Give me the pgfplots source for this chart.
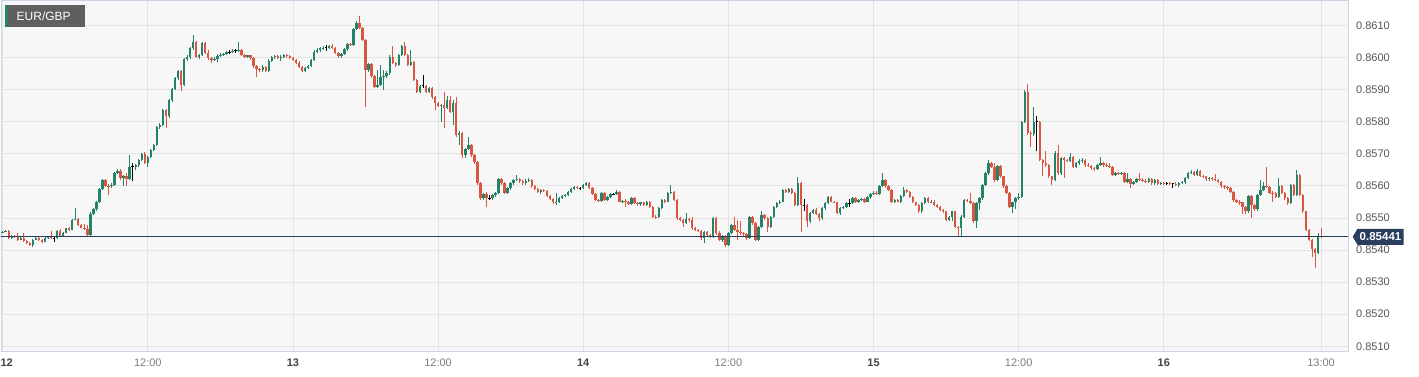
\documentclass[border=0pt]{standalone}
\usepackage{pgfplots}
\pgfplotsset{compat=1.18}
\usepackage{pgfplotstable}
\usepackage{fontspec}
\setmainfont{Liberation Sans}
\definecolor{cgreen}{RGB}{36,130,104}
\definecolor{cred}{RGB}{217,87,64}
\definecolor{bgplot}{RGB}{247,247,247}
\definecolor{gridc}{RGB}{228,228,228}
\definecolor{framec}{RGB}{204,211,228}
\definecolor{navy}{RGB}{41,61,94}
\definecolor{boxgray}{RGB}{95,95,95}
\definecolor{lblgray}{RGB}{85,85,85}
\definecolor{timegray}{RGB}{125,125,125}
\definecolor{daygray}{RGB}{68,68,68}

\pgfplotstableread{
i o h l c
0 0.85454 0.85459 0.85452 0.85457
1 0.85457 0.85461 0.85455 0.85459
2 0.85459 0.85461 0.85435 0.85437
3 0.85437 0.85447 0.85434 0.85444
4 0.85444 0.85446 0.85438 0.85441
5 0.85441 0.85452 0.85429 0.85432
6 0.85432 0.85440 0.85430 0.85437
7 0.85437 0.85452 0.85425 0.85428
8 0.85428 0.85432 0.85418 0.85421
9 0.85421 0.85425 0.85412 0.85416
10 0.85416 0.85435 0.85409 0.85432
11 0.85432 0.85440 0.85430 0.85437
12 0.85437 0.85444 0.85428 0.85430
13 0.85430 0.85434 0.85423 0.85426
14 0.85426 0.85440 0.85424 0.85437
15 0.85437 0.85443 0.85433 0.85440
16 0.85440 0.85460 0.85433 0.85436
17 0.85436 0.85441 0.85426 0.85436
18 0.85436 0.85463 0.85433 0.85460
19 0.85460 0.85465 0.85440 0.85444
20 0.85444 0.85456 0.85441 0.85454
21 0.85454 0.85470 0.85452 0.85468
22 0.85468 0.85472 0.85460 0.85463
23 0.85463 0.85497 0.85461 0.85494
24 0.85494 0.85530 0.85492 0.85497
25 0.85497 0.85500 0.85475 0.85478
26 0.85478 0.85482 0.85467 0.85470
27 0.85470 0.85480 0.85462 0.85466
28 0.85466 0.85478 0.85441 0.85447
29 0.85447 0.85518 0.85444 0.85512
30 0.85512 0.85530 0.85508 0.85527
31 0.85527 0.85552 0.85522 0.85548
32 0.85548 0.85593 0.85545 0.85589
33 0.85589 0.85621 0.85586 0.85618
34 0.85618 0.85622 0.85596 0.85600
35 0.85600 0.85605 0.85572 0.85598
36 0.85598 0.85608 0.85594 0.85604
37 0.85604 0.85644 0.85600 0.85641
38 0.85641 0.85651 0.85637 0.85647
39 0.85647 0.85652 0.85618 0.85624
40 0.85624 0.85634 0.85600 0.85629
41 0.85629 0.85640 0.85598 0.85622
42 0.85622 0.85696 0.85618 0.85660
43 0.85660 0.85670 0.85616 0.85660
44 0.85660 0.85669 0.85650 0.85665
45 0.85665 0.85684 0.85660 0.85681
46 0.85681 0.85703 0.85678 0.85699
47 0.85699 0.85705 0.85668 0.85672
48 0.85672 0.85694 0.85660 0.85691
49 0.85691 0.85716 0.85688 0.85712
50 0.85712 0.85731 0.85708 0.85727
51 0.85727 0.85786 0.85724 0.85782
52 0.85782 0.85795 0.85778 0.85790
53 0.85790 0.85840 0.85786 0.85836
54 0.85836 0.85840 0.85779 0.85816
55 0.85816 0.85871 0.85812 0.85867
56 0.85867 0.85904 0.85862 0.85901
57 0.85901 0.85938 0.85897 0.85935
58 0.85935 0.85962 0.85930 0.85958
59 0.85958 0.85962 0.85896 0.85914
60 0.85914 0.85998 0.85910 0.85994
61 0.85994 0.86006 0.85988 0.86000
62 0.86000 0.86033 0.85996 0.86028
63 0.86028 0.86069 0.86024 0.86047
64 0.86047 0.86050 0.85998 0.86002
65 0.86002 0.86012 0.85996 0.86008
66 0.86008 0.86047 0.86003 0.86044
67 0.86044 0.86049 0.86010 0.86013
68 0.86013 0.86023 0.85993 0.85997
69 0.85997 0.86000 0.85982 0.85993
70 0.85993 0.86000 0.85990 0.85996
71 0.85996 0.86010 0.85985 0.86005
72 0.86005 0.86013 0.86000 0.86009
73 0.86009 0.86015 0.86004 0.86011
74 0.86011 0.86020 0.86008 0.86016
75 0.86016 0.86022 0.86010 0.86016
76 0.86016 0.86025 0.86013 0.86021
77 0.86021 0.86027 0.86015 0.86021
78 0.86021 0.86049 0.86018 0.86024
79 0.86024 0.86027 0.86003 0.86006
80 0.86006 0.86010 0.85997 0.86002
81 0.86002 0.86009 0.85998 0.86006
82 0.86006 0.86009 0.85993 0.85997
83 0.85997 0.86000 0.85968 0.85972
84 0.85972 0.85975 0.85938 0.85963
85 0.85963 0.85968 0.85955 0.85960
86 0.85960 0.85975 0.85956 0.85971
87 0.85971 0.85974 0.85955 0.85959
88 0.85959 0.85994 0.85955 0.85990
89 0.85990 0.86005 0.85986 0.86000
90 0.86000 0.86008 0.85996 0.86004
91 0.86004 0.86007 0.85994 0.85998
92 0.85998 0.86006 0.85990 0.86002
93 0.86002 0.86012 0.85999 0.86008
94 0.86008 0.86012 0.85999 0.86003
95 0.86003 0.86008 0.85995 0.85998
96 0.85998 0.86002 0.85990 0.85993
97 0.85993 0.85996 0.85980 0.85984
98 0.85984 0.85988 0.85966 0.85970
99 0.85970 0.85973 0.85953 0.85959
100 0.85959 0.85971 0.85956 0.85968
101 0.85968 0.85977 0.85964 0.85974
102 0.85974 0.85995 0.85970 0.85991
103 0.85991 0.86022 0.85988 0.86018
104 0.86018 0.86028 0.86015 0.86023
105 0.86023 0.86032 0.86018 0.86028
106 0.86028 0.86035 0.86024 0.86030
107 0.86030 0.86040 0.86020 0.86030
108 0.86030 0.86040 0.86026 0.86036
109 0.86036 0.86042 0.86025 0.86029
110 0.86029 0.86032 0.86011 0.86015
111 0.86015 0.86018 0.85997 0.86003
112 0.86003 0.86013 0.85999 0.86010
113 0.86010 0.86028 0.86006 0.86025
114 0.86025 0.86045 0.86021 0.86042
115 0.86042 0.86046 0.86035 0.86039
116 0.86039 0.86091 0.86035 0.86088
117 0.86088 0.86113 0.86084 0.86108
118 0.86108 0.86129 0.86087 0.86091
119 0.86091 0.86094 0.86050 0.86054
120 0.86054 0.86057 0.85847 0.85961
121 0.85961 0.85984 0.85955 0.85980
122 0.85980 0.85984 0.85936 0.85942
123 0.85942 0.85945 0.85904 0.85909
124 0.85909 0.85962 0.85905 0.85915
125 0.85915 0.85975 0.85910 0.85940
126 0.85940 0.85962 0.85899 0.85942
127 0.85942 0.85958 0.85935 0.85950
128 0.85950 0.86008 0.85946 0.86002
129 0.86002 0.86036 0.85978 0.85982
130 0.85982 0.85986 0.85970 0.85976
131 0.85976 0.86012 0.85972 0.86008
132 0.86008 0.86038 0.86004 0.86034
133 0.86034 0.86047 0.86005 0.86008
134 0.86008 0.86011 0.85972 0.85976
135 0.85976 0.86023 0.85972 0.85987
136 0.85987 0.85990 0.85926 0.85930
137 0.85930 0.85933 0.85888 0.85893
138 0.85893 0.85915 0.85888 0.85911
139 0.85911 0.85945 0.85906 0.85911
140 0.85911 0.85914 0.85889 0.85893
141 0.85893 0.85908 0.85890 0.85904
142 0.85904 0.85907 0.85871 0.85876
143 0.85876 0.85880 0.85836 0.85857
144 0.85857 0.85860 0.85845 0.85850
145 0.85850 0.85856 0.85800 0.85852
146 0.85852 0.85893 0.85779 0.85842
147 0.85842 0.85880 0.85838 0.85867
148 0.85867 0.85881 0.85826 0.85831
149 0.85831 0.85867 0.85790 0.85857
150 0.85857 0.85876 0.85752 0.85758
151 0.85758 0.85770 0.85727 0.85765
152 0.85765 0.85768 0.85686 0.85696
153 0.85696 0.85717 0.85686 0.85714
154 0.85714 0.85753 0.85710 0.85727
155 0.85727 0.85730 0.85690 0.85696
156 0.85696 0.85700 0.85668 0.85675
157 0.85675 0.85678 0.85604 0.85608
158 0.85608 0.85612 0.85556 0.85561
159 0.85561 0.85579 0.85556 0.85575
160 0.85575 0.85580 0.85535 0.85561
161 0.85561 0.85570 0.85556 0.85561
162 0.85561 0.85573 0.85557 0.85570
163 0.85570 0.85581 0.85566 0.85577
164 0.85577 0.85623 0.85573 0.85620
165 0.85620 0.85624 0.85604 0.85608
166 0.85608 0.85612 0.85575 0.85579
167 0.85579 0.85596 0.85575 0.85592
168 0.85592 0.85612 0.85588 0.85608
169 0.85608 0.85622 0.85604 0.85618
170 0.85618 0.85634 0.85614 0.85620
171 0.85620 0.85624 0.85610 0.85614
172 0.85614 0.85618 0.85604 0.85608
173 0.85608 0.85620 0.85604 0.85616
174 0.85616 0.85624 0.85612 0.85618
175 0.85618 0.85620 0.85594 0.85598
176 0.85598 0.85601 0.85586 0.85590
177 0.85590 0.85593 0.85578 0.85582
178 0.85582 0.85590 0.85576 0.85587
179 0.85587 0.85590 0.85580 0.85584
180 0.85584 0.85588 0.85566 0.85569
181 0.85569 0.85572 0.85555 0.85558
182 0.85558 0.85561 0.85544 0.85548
183 0.85548 0.85579 0.85540 0.85551
184 0.85551 0.85564 0.85547 0.85561
185 0.85561 0.85572 0.85558 0.85568
186 0.85568 0.85576 0.85565 0.85572
187 0.85572 0.85585 0.85569 0.85582
188 0.85582 0.85592 0.85579 0.85589
189 0.85589 0.85599 0.85586 0.85595
190 0.85595 0.85598 0.85589 0.85592
191 0.85592 0.85597 0.85586 0.85592
192 0.85592 0.85606 0.85589 0.85603
193 0.85603 0.85612 0.85600 0.85608
194 0.85608 0.85611 0.85589 0.85592
195 0.85592 0.85595 0.85571 0.85575
196 0.85575 0.85579 0.85552 0.85556
197 0.85556 0.85559 0.85550 0.85554
198 0.85554 0.85580 0.85551 0.85577
199 0.85577 0.85580 0.85552 0.85556
200 0.85556 0.85569 0.85553 0.85566
201 0.85566 0.85577 0.85562 0.85574
202 0.85574 0.85578 0.85570 0.85574
203 0.85574 0.85587 0.85571 0.85580
204 0.85580 0.85584 0.85548 0.85551
205 0.85551 0.85557 0.85546 0.85554
206 0.85554 0.85558 0.85535 0.85548
207 0.85548 0.85552 0.85540 0.85543
208 0.85543 0.85566 0.85540 0.85563
209 0.85563 0.85566 0.85542 0.85546
210 0.85546 0.85549 0.85538 0.85542
211 0.85542 0.85551 0.85538 0.85548
212 0.85548 0.85551 0.85536 0.85540
213 0.85540 0.85554 0.85537 0.85551
214 0.85551 0.85554 0.85531 0.85535
215 0.85535 0.85538 0.85499 0.85504
216 0.85504 0.85509 0.85496 0.85502
217 0.85502 0.85533 0.85499 0.85530
218 0.85530 0.85559 0.85527 0.85556
219 0.85556 0.85560 0.85547 0.85551
220 0.85551 0.85580 0.85548 0.85577
221 0.85577 0.85603 0.85575 0.85580
222 0.85580 0.85584 0.85553 0.85556
223 0.85556 0.85560 0.85494 0.85499
224 0.85499 0.85502 0.85489 0.85494
225 0.85494 0.85497 0.85473 0.85483
226 0.85483 0.85515 0.85480 0.85496
227 0.85496 0.85499 0.85488 0.85492
228 0.85492 0.85502 0.85463 0.85468
229 0.85468 0.85473 0.85458 0.85463
230 0.85463 0.85466 0.85455 0.85460
231 0.85460 0.85463 0.85432 0.85437
232 0.85437 0.85460 0.85421 0.85457
233 0.85457 0.85460 0.85443 0.85447
234 0.85447 0.85450 0.85437 0.85440
235 0.85440 0.85502 0.85437 0.85499
236 0.85499 0.85502 0.85447 0.85452
237 0.85452 0.85460 0.85428 0.85432
238 0.85432 0.85447 0.85426 0.85440
239 0.85440 0.85447 0.85410 0.85416
240 0.85416 0.85455 0.85412 0.85452
241 0.85452 0.85482 0.85449 0.85478
242 0.85478 0.85504 0.85460 0.85463
243 0.85463 0.85494 0.85432 0.85457
244 0.85457 0.85489 0.85448 0.85452
245 0.85452 0.85456 0.85440 0.85450
246 0.85450 0.85453 0.85432 0.85437
247 0.85437 0.85505 0.85433 0.85502
248 0.85502 0.85505 0.85479 0.85483
249 0.85483 0.85486 0.85428 0.85432
250 0.85432 0.85476 0.85429 0.85473
251 0.85473 0.85520 0.85470 0.85509
252 0.85509 0.85512 0.85495 0.85499
253 0.85499 0.85502 0.85457 0.85473
254 0.85473 0.85507 0.85469 0.85504
255 0.85504 0.85538 0.85500 0.85535
256 0.85535 0.85550 0.85531 0.85546
257 0.85546 0.85556 0.85542 0.85551
258 0.85551 0.85590 0.85548 0.85587
259 0.85587 0.85590 0.85578 0.85582
260 0.85582 0.85593 0.85578 0.85589
261 0.85589 0.85592 0.85573 0.85577
262 0.85577 0.85580 0.85536 0.85540
263 0.85540 0.85627 0.85536 0.85610
264 0.85610 0.85613 0.85457 0.85540
265 0.85540 0.85558 0.85520 0.85540
266 0.85540 0.85543 0.85473 0.85489
267 0.85489 0.85518 0.85485 0.85515
268 0.85515 0.85528 0.85511 0.85525
269 0.85525 0.85530 0.85508 0.85512
270 0.85512 0.85515 0.85489 0.85499
271 0.85499 0.85533 0.85495 0.85530
272 0.85530 0.85549 0.85526 0.85546
273 0.85546 0.85569 0.85542 0.85566
274 0.85566 0.85569 0.85548 0.85551
275 0.85551 0.85554 0.85545 0.85548
276 0.85548 0.85551 0.85511 0.85515
277 0.85515 0.85533 0.85509 0.85530
278 0.85530 0.85538 0.85527 0.85535
279 0.85535 0.85550 0.85531 0.85546
280 0.85546 0.85558 0.85533 0.85546
281 0.85546 0.85565 0.85543 0.85561
282 0.85561 0.85564 0.85547 0.85551
283 0.85551 0.85560 0.85547 0.85556
284 0.85556 0.85563 0.85553 0.85559
285 0.85559 0.85562 0.85547 0.85551
286 0.85551 0.85567 0.85548 0.85564
287 0.85564 0.85578 0.85560 0.85574
288 0.85574 0.85583 0.85571 0.85579
289 0.85579 0.85584 0.85570 0.85574
290 0.85574 0.85601 0.85570 0.85598
291 0.85598 0.85639 0.85595 0.85618
292 0.85618 0.85621 0.85594 0.85598
293 0.85598 0.85601 0.85583 0.85587
294 0.85587 0.85590 0.85547 0.85551
295 0.85551 0.85560 0.85547 0.85556
296 0.85556 0.85559 0.85548 0.85551
297 0.85551 0.85571 0.85547 0.85568
298 0.85568 0.85595 0.85565 0.85587
299 0.85587 0.85590 0.85578 0.85582
300 0.85582 0.85585 0.85562 0.85566
301 0.85566 0.85569 0.85545 0.85548
302 0.85548 0.85551 0.85536 0.85540
303 0.85540 0.85543 0.85515 0.85520
304 0.85520 0.85549 0.85516 0.85546
305 0.85546 0.85565 0.85543 0.85561
306 0.85561 0.85564 0.85545 0.85548
307 0.85548 0.85555 0.85545 0.85551
308 0.85551 0.85556 0.85536 0.85540
309 0.85540 0.85543 0.85531 0.85535
310 0.85535 0.85538 0.85520 0.85525
311 0.85525 0.85528 0.85515 0.85520
312 0.85520 0.85523 0.85489 0.85494
313 0.85494 0.85505 0.85490 0.85502
314 0.85502 0.85523 0.85489 0.85520
315 0.85520 0.85523 0.85468 0.85473
316 0.85473 0.85476 0.85442 0.85468
317 0.85468 0.85509 0.85440 0.85504
318 0.85504 0.85560 0.85500 0.85556
319 0.85556 0.85559 0.85550 0.85554
320 0.85554 0.85577 0.85542 0.85546
321 0.85546 0.85549 0.85484 0.85489
322 0.85489 0.85549 0.85468 0.85546
323 0.85546 0.85565 0.85525 0.85561
324 0.85561 0.85606 0.85557 0.85603
325 0.85603 0.85642 0.85600 0.85639
326 0.85639 0.85681 0.85635 0.85670
327 0.85670 0.85673 0.85656 0.85660
328 0.85660 0.85670 0.85613 0.85618
329 0.85618 0.85666 0.85614 0.85662
330 0.85662 0.85665 0.85624 0.85629
331 0.85629 0.85632 0.85594 0.85598
332 0.85598 0.85601 0.85573 0.85577
333 0.85577 0.85580 0.85530 0.85535
334 0.85535 0.85551 0.85515 0.85548
335 0.85548 0.85565 0.85527 0.85561
336 0.85561 0.85577 0.85557 0.85566
337 0.85566 0.85803 0.85562 0.85800
338 0.85800 0.85897 0.85795 0.85893
339 0.85893 0.85917 0.85758 0.85764
340 0.85764 0.85770 0.85722 0.85761
341 0.85761 0.85847 0.85756 0.85800
342 0.85800 0.85816 0.85707 0.85800
343 0.85800 0.85803 0.85676 0.85681
344 0.85681 0.85684 0.85629 0.85670
345 0.85670 0.85707 0.85660 0.85665
346 0.85665 0.85668 0.85624 0.85629
347 0.85629 0.85632 0.85603 0.85618
348 0.85618 0.85707 0.85614 0.85703
349 0.85703 0.85727 0.85634 0.85639
350 0.85639 0.85690 0.85635 0.85686
351 0.85686 0.85690 0.85624 0.85681
352 0.85681 0.85684 0.85673 0.85678
353 0.85678 0.85703 0.85674 0.85691
354 0.85691 0.85694 0.85656 0.85660
355 0.85660 0.85673 0.85655 0.85670
356 0.85670 0.85684 0.85666 0.85676
357 0.85676 0.85686 0.85670 0.85681
358 0.85681 0.85685 0.85660 0.85665
359 0.85665 0.85672 0.85658 0.85662
360 0.85662 0.85666 0.85650 0.85655
361 0.85655 0.85660 0.85647 0.85652
362 0.85652 0.85668 0.85648 0.85665
363 0.85665 0.85691 0.85662 0.85670
364 0.85670 0.85674 0.85660 0.85665
365 0.85665 0.85670 0.85658 0.85662
366 0.85662 0.85672 0.85654 0.85658
367 0.85658 0.85661 0.85629 0.85634
368 0.85634 0.85642 0.85630 0.85639
369 0.85639 0.85642 0.85633 0.85637
370 0.85637 0.85642 0.85634 0.85639
371 0.85639 0.85642 0.85609 0.85613
372 0.85613 0.85641 0.85609 0.85620
373 0.85620 0.85623 0.85592 0.85606
374 0.85606 0.85616 0.85603 0.85613
375 0.85613 0.85625 0.85609 0.85622
376 0.85622 0.85639 0.85614 0.85618
377 0.85618 0.85624 0.85612 0.85616
378 0.85616 0.85622 0.85609 0.85613
379 0.85613 0.85625 0.85609 0.85622
380 0.85622 0.85625 0.85604 0.85608
381 0.85608 0.85621 0.85604 0.85618
382 0.85618 0.85621 0.85603 0.85606
383 0.85606 0.85613 0.85603 0.85610
384 0.85610 0.85612 0.85604 0.85608
385 0.85608 0.85611 0.85603 0.85608
386 0.85608 0.85613 0.85603 0.85606
387 0.85606 0.85609 0.85592 0.85606
388 0.85606 0.85611 0.85600 0.85604
389 0.85604 0.85612 0.85596 0.85609
390 0.85609 0.85614 0.85606 0.85611
391 0.85611 0.85627 0.85605 0.85624
392 0.85624 0.85642 0.85620 0.85639
393 0.85639 0.85648 0.85636 0.85642
394 0.85642 0.85645 0.85630 0.85634
395 0.85634 0.85652 0.85630 0.85647
396 0.85647 0.85650 0.85627 0.85631
397 0.85631 0.85634 0.85624 0.85629
398 0.85629 0.85632 0.85616 0.85620
399 0.85620 0.85627 0.85616 0.85624
400 0.85624 0.85627 0.85616 0.85620
401 0.85620 0.85637 0.85614 0.85618
402 0.85618 0.85621 0.85609 0.85613
403 0.85613 0.85616 0.85594 0.85598
404 0.85598 0.85601 0.85591 0.85595
405 0.85595 0.85598 0.85588 0.85592
406 0.85592 0.85595 0.85578 0.85582
407 0.85582 0.85585 0.85551 0.85556
408 0.85556 0.85560 0.85547 0.85551
409 0.85551 0.85555 0.85540 0.85548
410 0.85548 0.85551 0.85512 0.85535
411 0.85535 0.85538 0.85512 0.85520
412 0.85520 0.85571 0.85516 0.85568
413 0.85568 0.85572 0.85499 0.85540
414 0.85540 0.85543 0.85522 0.85527
415 0.85527 0.85575 0.85523 0.85572
416 0.85572 0.85618 0.85568 0.85587
417 0.85587 0.85613 0.85583 0.85598
418 0.85598 0.85660 0.85592 0.85596
419 0.85596 0.85599 0.85575 0.85579
420 0.85579 0.85584 0.85551 0.85577
421 0.85577 0.85582 0.85562 0.85566
422 0.85566 0.85624 0.85562 0.85598
423 0.85598 0.85601 0.85573 0.85577
424 0.85577 0.85582 0.85557 0.85561
425 0.85561 0.85564 0.85540 0.85546
426 0.85546 0.85606 0.85542 0.85603
427 0.85603 0.85606 0.85568 0.85572
428 0.85572 0.85649 0.85568 0.85634
429 0.85634 0.85637 0.85568 0.85572
430 0.85572 0.85575 0.85516 0.85520
431 0.85520 0.85523 0.85458 0.85463
432 0.85463 0.85466 0.85427 0.85432
433 0.85432 0.85435 0.85378 0.85402
434 0.85402 0.85405 0.85343 0.85390
435 0.85390 0.85452 0.85386 0.85444
436 0.85444 0.85468 0.85437 0.85441
}\candles

\begin{document}
\begin{tikzpicture}
\begin{axis}[
  at={(1pt,26pt)}, anchor=south west,
  scale only axis, width=1347pt, height=351pt,
  xmin=-0.55, xmax=444.9,
  ymin=0.850854, ymax=0.861788,
  axis background/.style={fill=bgplot},
  axis line style={draw=framec, line width=0.9pt},
  grid=major,
  major grid style={draw=gridc, line width=0.8pt},
  major tick length=0pt,
  xtick={0,48,96,144,192,240,288,336,384,436},
  xticklabels={{\hspace*{8pt}\color{daygray}\bfseries 12},12:00,{\color{daygray}\bfseries 13},12:00,{\color{daygray}\bfseries 14},12:00,{\color{daygray}\bfseries 15},12:00,{\color{daygray}\bfseries 16},13:00},
  xticklabel style={font=\fontsize{11}{13}\selectfont, text=timegray, inner sep=0pt, anchor=north, yshift=-8pt},
  ytick={0.851,0.852,0.853,0.854,0.855,0.856,0.857,0.858,0.859,0.860,0.861},
  yticklabels={0.8510,0.8520,0.8530,0.8540,0.8550,0.8560,0.8570,0.8580,0.8590,0.8600,0.8610},
  yticklabel pos=right,
  yticklabel style={font=\fontsize{11}{13}\selectfont, text=lblgray, anchor=west, inner sep=0pt, xshift=8pt},
]
% up candles: wick, then body
\addplot[cgreen, line width=0.9pt, mark=none, forget plot, -,
  restrict expr to domain={\thisrow{c}-\thisrow{o}}{1e-7:1},
  quiver={u=0, v=\thisrow{h}-\thisrow{l}}]
  table[x=i, y=l] {\candles};
\addplot[cgreen, line width=2.4pt, mark=none, forget plot, -,
  restrict expr to domain={\thisrow{c}-\thisrow{o}}{1e-7:1},
  quiver={u=0, v=\thisrow{c}-\thisrow{o}}]
  table[x=i, y=o] {\candles};
% down candles
\addplot[cred, line width=0.9pt, mark=none, forget plot, -,
  restrict expr to domain={\thisrow{o}-\thisrow{c}}{1e-7:1},
  quiver={u=0, v=\thisrow{h}-\thisrow{l}}]
  table[x=i, y=l] {\candles};
\addplot[cred, line width=2.4pt, mark=none, forget plot, -,
  restrict expr to domain={\thisrow{o}-\thisrow{c}}{1e-7:1},
  quiver={u=0, v=\thisrow{c}-\thisrow{o}}]
  table[x=i, y=o] {\candles};
% doji candles
\addplot[black, line width=0.9pt, mark=none, forget plot, -,
  restrict expr to domain={\thisrow{c}-\thisrow{o}}{-1e-7:1e-7},
  quiver={u=0, v=\thisrow{h}-\thisrow{l}}]
  table[x=i, y=l] {\candles};
\addplot[black, line width=1pt, mark=none, forget plot, -,
  restrict expr to domain={\thisrow{c}-\thisrow{o}}{-1e-7:1e-7},
  quiver={u=0.8, v=0}]
  table[x expr=\thisrow{i}-0.4, y=c] {\candles};
% last price line
\addplot[navy, line width=1pt, forget plot] coordinates {(-5,0.85441) (450,0.85441)};
\end{axis}
% last price label
\fill[navy] (1352.7pt,140.2pt) -- (1357.5pt,148.2pt) -- (1403.5pt,148.2pt) -- (1403.5pt,132.2pt) -- (1357.5pt,132.2pt) -- cycle;
\node[text=white, font=\fontsize{11.5}{13}\selectfont\bfseries, inner sep=0pt] at (1380.5pt,140.2pt) {0.85441};
% title box
\fill[boxgray] (5pt,350pt) rectangle (85pt,372pt);
\fill[cgreen] (5pt,350pt) rectangle (7.5pt,372pt);
\node[anchor=west, text=white, font=\fontsize{12}{14}\selectfont, inner sep=0pt] at (16.5pt,361pt) {EUR/GBP};
\pgfresetboundingbox
\path[use as bounding box] (0pt,0pt) rectangle (1419pt,377pt);
\end{tikzpicture}
\end{document}
